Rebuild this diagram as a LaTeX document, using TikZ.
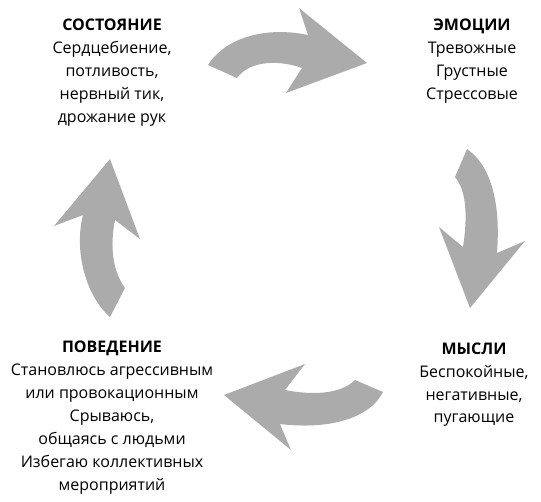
\documentclass[tikz,border=0pt]{standalone}
\usepackage{fontspec}
\setmainfont{Open Sans}
\definecolor{arrowgray}{RGB}{171,171,171}
\tikzset{
  cyclearrow/.style={fill=arrowgray, draw=none},
  block/.style={align=center, anchor=north, inner sep=0pt, font=\fontsize{16}{22.9}\selectfont}
}
\begin{document}
\begin{tikzpicture}[x=1pt, y=-1pt]
\useasboundingbox (0,0) rectangle (541,501);
% arrows
\fill[cyclearrow] (208,65) .. controls (225,38) and (265,26) .. (308,35) -- (299,8) -- (367,63) -- (286,93) -- (302,68) .. controls (280,60) and (250,60) .. (237,78) -- cycle;
\fill[cyclearrow] (467,149) .. controls (490,165) and (501,200) .. (497,253) -- (525,241) -- (470,308) -- (439,227) -- (463,247) .. controls (468,215) and (466,190) .. (455,177) -- cycle;
\fill[cyclearrow] (383,392) .. controls (370,418) and (330,430) .. (280,424) -- (291,450) -- (224,395) -- (305,364) -- (285,390) .. controls (310,395) and (340,395) .. (355,380) -- cycle;
\fill[cyclearrow] (125,288) -- (110,317) .. controls (85,295) and (74,250) .. (83,215) -- (54,226) -- (110,159) -- (140,239) -- (115,220) .. controls (110,245) and (112,270) .. (125,288) -- cycle;
% texts
\node[block] (state) at (112,19) {\textbf{СОСТОЯНИЕ}\\Сердцебиение,\\потливость,\\нервный тик,\\дрожание рук};
\node[block] (emo) at (472,18.5) {\textbf{ЭМОЦИИ}\\Тревожные\\Грустные\\Стрессовые};
\node[block] (thought) at (474,342.5) {\textbf{МЫСЛИ}\\Беспокойные,\\негативные,\\пугающие};
\node[block] (behav) at (112,341) {\textbf{ПОВЕДЕНИЕ}\\Становлюсь агрессивным\\или провокационным\\Срываюсь,\\общаясь с людьми\\Избегаю коллективных\\мероприятий};
\end{tikzpicture}
\end{document}
